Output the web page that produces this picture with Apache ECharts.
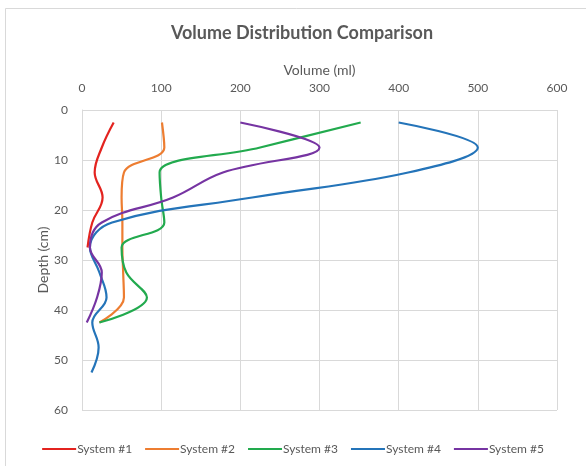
<!DOCTYPE html>
<html>
<head>
<meta charset="utf-8">
<script src="https://cdn.jsdelivr.net/npm/echarts@6/dist/echarts.min.js"></script>
<style>
  html, body { margin: 0; padding: 0; background: #fff; }
  #chart { width: 586px; height: 466px; }
</style>
</head>
<body>
<div id="chart"></div>
<script>
// Sampling depths (cm) for each profile
const depths = [2.5, 7.5, 12.5, 17.5, 22.5, 27.5, 32.5, 37.5, 42.5, 47.5, 52.5];

// Volume (ml) measured at each depth, per system
const system1 = [40, 25, 16, 26, 13, 7];
const system2 = [101, 104, 53, 50, 51, 51, 52, 53, 22];
const system3 = [352, 225, 98, 100, 104, 50, 56, 82, 22];
const system4 = [400, 500, 412, 215, 38, 10, 22, 31, 13, 21, 12];
const system5 = [200, 300, 178, 115, 25, 10, 25, 19, 6];

const seriesNames = ['System #1', 'System #2', 'System #3', 'System #4', 'System #5'];
const seriesValues = [system1, system2, system3, system4, system5];
const seriesColors = ['#E3231F', '#ED7D31', '#22AA4E', '#2474B9', '#7634A2'];

const volumeTicks = [0, 100, 200, 300, 400, 500, 600];
const depthTicks = [0, 10, 20, 30, 40, 50, 60];

const textColor = '#595959';
const fontFamily = 'Lato, "Open Sans", sans-serif';

const chart = echarts.init(document.getElementById('chart'), null, { renderer: 'canvas' });

const series = seriesNames.map((name, i) => ({
  name: name,
  type: 'line',
  smooth: 0.4,
  showSymbol: false,
  symbol: 'none',
  lineStyle: { width: 2.2, color: seriesColors[i] },
  itemStyle: { color: seriesColors[i] },
  data: seriesValues[i].map((v, k) => [v, depths[k]])
}));

chart.setOption({
  backgroundColor: '#fff',
  animation: false,
  textStyle: { fontFamily: fontFamily },
  graphic: [{
    type: 'rect',
    shape: { x: 5.5, y: 8.5, width: 600, height: 470 },
    style: { fill: 'none', stroke: '#d9d9d9', lineWidth: 1 },
    silent: true
  }],
  title: {
    text: 'Volume Distribution Comparison',
    left: 297,
    textAlign: 'center',
    top: 19,
    textStyle: { color: textColor, fontSize: 18, fontWeight: 'bold', fontFamily: fontFamily }
  },
  legend: {
    bottom: 6,
    left: 'center',
    itemWidth: 34,
    itemHeight: 2,
    itemGap: 13,
    icon: 'rect',
    textStyle: { color: textColor, fontSize: 12, fontFamily: fontFamily, padding: [0, 0, 0, -4] },
    data: seriesNames
  },
  grid: { left: 82, right: 29, top: 110, bottom: 56, containLabel: false },
  xAxis: {
    type: 'value',
    position: 'top',
    min: volumeTicks[0],
    max: volumeTicks[volumeTicks.length - 1],
    interval: 100,
    name: 'Volume (ml)',
    nameLocation: 'middle',
    nameGap: 33,
    nameTextStyle: { color: textColor, fontSize: 14, fontFamily: fontFamily },
    axisLine: { show: false },
    axisTick: { show: false },
    axisLabel: { color: textColor, fontSize: 12, margin: 16, fontFamily: fontFamily },
    splitLine: { show: true, lineStyle: { color: '#d9d9d9', width: 1 } }
  },
  yAxis: {
    type: 'value',
    inverse: true,
    min: depthTicks[0],
    max: depthTicks[depthTicks.length - 1],
    interval: 10,
    name: 'Depth (cm)',
    nameLocation: 'middle',
    nameGap: 32,
    nameMoveOverlap: false,
    nameRotate: 90,
    nameTextStyle: { color: textColor, fontSize: 14, fontFamily: fontFamily },
    axisLine: { show: true, lineStyle: { color: '#d9d9d9' } },
    axisTick: { show: false },
    axisLabel: { color: textColor, fontSize: 12, margin: 14, fontFamily: fontFamily },
    splitLine: { show: true, lineStyle: { color: '#d9d9d9', width: 1 } }
  },
  series: series
});
</script>
</body>
</html>
